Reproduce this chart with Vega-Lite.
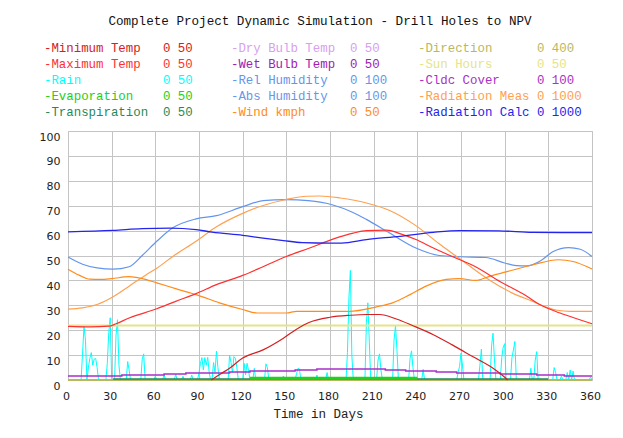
{
 "$schema": "https://vega.github.io/schema/vega-lite/v6.json",
 "width": 524, "height": 249,
 "autosize": {"type": "none"},
 "padding": {"left": 68, "top": 131, "right": 31, "bottom": 58},
 "background": "white",
 "title": {"text": "Complete Project Dynamic Simulation - Drill Holes to NPV", "font": "Liberation Mono", "fontSize": 12.6, "fontWeight": "normal", "color": "#111111", "anchor": "middle", "frame": "group", "dx": -10, "offset": 14},
 "config": {
  "view": {"stroke": "#c4c4c4"},
  "axis": {"grid": true, "gridColor": "#c4c4c4", "gridWidth": 1, "domain": false, "ticks": false, "labelFont": "DejaVu Sans", "labelFontSize": 11, "labelColor": "#222222", "labelOverlap": false, "labelFlush": false}
 },
 "datasets": {
  "lines": [
   {"s":"Radiation Calc","d":0,"v":59.5},{"s":"Radiation Calc","d":31,"v":60.1},{"s":"Radiation Calc","d":51,"v":60.8},{"s":"Radiation Calc","d":70,"v":61},{"s":"Radiation Calc","d":88,"v":60.4},{"s":"Radiation Calc","d":99,"v":59.4},{"s":"Radiation Calc","d":120,"v":58.1},{"s":"Radiation Calc","d":134,"v":57},{"s":"Radiation Calc","d":148,"v":56},{"s":"Radiation Calc","d":161,"v":55.2},{"s":"Radiation Calc","d":180,"v":55},{"s":"Radiation Calc","d":188,"v":55},{"s":"Radiation Calc","d":205,"v":56.4},{"s":"Radiation Calc","d":228,"v":57.7},{"s":"Radiation Calc","d":251,"v":59.3},{"s":"Radiation Calc","d":269,"v":60},{"s":"Radiation Calc","d":296,"v":59.9},{"s":"Radiation Calc","d":319,"v":59.3},{"s":"Radiation Calc","d":340,"v":59.2},{"s":"Radiation Calc","d":360,"v":59.2},
   {"s":"Rel Humidity","d":0,"v":49.4},{"s":"Rel Humidity","d":10,"v":46.5},{"s":"Rel Humidity","d":20,"v":45},{"s":"Rel Humidity","d":31,"v":44.5},{"s":"Rel Humidity","d":42,"v":45.5},{"s":"Rel Humidity","d":51,"v":50},{"s":"Rel Humidity","d":61,"v":55.7},{"s":"Rel Humidity","d":72,"v":61.1},{"s":"Rel Humidity","d":88,"v":64.7},{"s":"Rel Humidity","d":102,"v":66},{"s":"Rel Humidity","d":120,"v":69.6},{"s":"Rel Humidity","d":134,"v":72},{"s":"Rel Humidity","d":150,"v":72.4},{"s":"Rel Humidity","d":165,"v":72},{"s":"Rel Humidity","d":182,"v":70.3},{"s":"Rel Humidity","d":195,"v":67.5},{"s":"Rel Humidity","d":205,"v":64.5},{"s":"Rel Humidity","d":221,"v":59},{"s":"Rel Humidity","d":239,"v":53},{"s":"Rel Humidity","d":255,"v":50},{"s":"Rel Humidity","d":270,"v":49.5},{"s":"Rel Humidity","d":287,"v":49.2},{"s":"Rel Humidity","d":300,"v":47},{"s":"Rel Humidity","d":308,"v":45.9},{"s":"Rel Humidity","d":315,"v":45.8},{"s":"Rel Humidity","d":325,"v":48},{"s":"Rel Humidity","d":333,"v":51.5},{"s":"Rel Humidity","d":344,"v":53.2},{"s":"Rel Humidity","d":352,"v":52.5},{"s":"Rel Humidity","d":360,"v":49.6},
   {"s":"Radiation Meas","d":0,"v":28.5},{"s":"Radiation Meas","d":10,"v":29},{"s":"Radiation Meas","d":20,"v":30.3},{"s":"Radiation Meas","d":31,"v":33.4},{"s":"Radiation Meas","d":42,"v":37.7},{"s":"Radiation Meas","d":54,"v":42.4},{"s":"Radiation Meas","d":61,"v":44.9},{"s":"Radiation Meas","d":72,"v":49.6},{"s":"Radiation Meas","d":88,"v":55.7},{"s":"Radiation Meas","d":102,"v":61.5},{"s":"Radiation Meas","d":120,"v":66.9},{"s":"Radiation Meas","d":134,"v":70.1},{"s":"Radiation Meas","d":150,"v":72.5},{"s":"Radiation Meas","d":164,"v":73.8},{"s":"Radiation Meas","d":173,"v":73.9},{"s":"Radiation Meas","d":187,"v":73.1},{"s":"Radiation Meas","d":205,"v":71.1},{"s":"Radiation Meas","d":221,"v":68.1},{"s":"Radiation Meas","d":239,"v":62},{"s":"Radiation Meas","d":255,"v":54.7},{"s":"Radiation Meas","d":267,"v":49.6},{"s":"Radiation Meas","d":278,"v":44.9},{"s":"Radiation Meas","d":290,"v":40},{"s":"Radiation Meas","d":305,"v":35},{"s":"Radiation Meas","d":319,"v":31.6},{"s":"Radiation Meas","d":328,"v":29.4},{"s":"Radiation Meas","d":336,"v":28},{"s":"Radiation Meas","d":345,"v":27.6},{"s":"Radiation Meas","d":360,"v":27.6},
   {"s":"Wind kmph","d":0,"v":44.5},{"s":"Wind kmph","d":8,"v":42},{"s":"Wind kmph","d":15,"v":40.5},{"s":"Wind kmph","d":22,"v":40.4},{"s":"Wind kmph","d":30,"v":40.7},{"s":"Wind kmph","d":42,"v":41.5},{"s":"Wind kmph","d":51,"v":40.7},{"s":"Wind kmph","d":61,"v":39},{"s":"Wind kmph","d":75,"v":36.5},{"s":"Wind kmph","d":88,"v":34.3},{"s":"Wind kmph","d":104,"v":31},{"s":"Wind kmph","d":120,"v":28.3},{"s":"Wind kmph","d":130,"v":26.9},{"s":"Wind kmph","d":150,"v":26.9},{"s":"Wind kmph","d":157,"v":27.6},{"s":"Wind kmph","d":193,"v":27.6},{"s":"Wind kmph","d":212,"v":29.4},{"s":"Wind kmph","d":223,"v":31},{"s":"Wind kmph","d":235,"v":34.3},{"s":"Wind kmph","d":246,"v":37.7},{"s":"Wind kmph","d":260,"v":40.4},{"s":"Wind kmph","d":269,"v":40.7},{"s":"Wind kmph","d":280,"v":40},{"s":"Wind kmph","d":290,"v":41.7},{"s":"Wind kmph","d":301,"v":43.4},{"s":"Wind kmph","d":319,"v":46.2},{"s":"Wind kmph","d":337,"v":48.3},{"s":"Wind kmph","d":347,"v":47.6},{"s":"Wind kmph","d":360,"v":44.6},
   {"s":"Maximum Temp","d":0,"v":21.5},{"s":"Maximum Temp","d":15,"v":21.3},{"s":"Maximum Temp","d":28,"v":21.6},{"s":"Maximum Temp","d":33,"v":22.6},{"s":"Maximum Temp","d":42,"v":24.9},{"s":"Maximum Temp","d":61,"v":28.6},{"s":"Maximum Temp","d":74,"v":31.6},{"s":"Maximum Temp","d":88,"v":34.7},{"s":"Maximum Temp","d":102,"v":38.3},{"s":"Maximum Temp","d":120,"v":42},{"s":"Maximum Temp","d":134,"v":45.5},{"s":"Maximum Temp","d":150,"v":49.6},{"s":"Maximum Temp","d":166,"v":53},{"s":"Maximum Temp","d":182,"v":56.6},{"s":"Maximum Temp","d":196,"v":59},{"s":"Maximum Temp","d":205,"v":60},{"s":"Maximum Temp","d":219,"v":60.2},{"s":"Maximum Temp","d":228,"v":58.8},{"s":"Maximum Temp","d":239,"v":56.4},{"s":"Maximum Temp","d":251,"v":53},{"s":"Maximum Temp","d":264,"v":49.6},{"s":"Maximum Temp","d":280,"v":45.5},{"s":"Maximum Temp","d":297,"v":39.5},{"s":"Maximum Temp","d":315,"v":33.7},{"s":"Maximum Temp","d":324,"v":30.3},{"s":"Maximum Temp","d":338,"v":26.9},{"s":"Maximum Temp","d":350,"v":24.5},{"s":"Maximum Temp","d":360,"v":22.6},
   {"s":"Minimum Temp","d":98.5,"v":0},{"s":"Minimum Temp","d":105,"v":2.5},{"s":"Minimum Temp","d":111,"v":4.7},{"s":"Minimum Temp","d":120,"v":8.8},{"s":"Minimum Temp","d":134,"v":12.1},{"s":"Minimum Temp","d":148,"v":16.8},{"s":"Minimum Temp","d":157,"v":20.4},{"s":"Minimum Temp","d":166,"v":23.2},{"s":"Minimum Temp","d":180,"v":25.2},{"s":"Minimum Temp","d":194,"v":26},{"s":"Minimum Temp","d":205,"v":26.3},{"s":"Minimum Temp","d":214,"v":26.3},{"s":"Minimum Temp","d":225.6,"v":24.5},{"s":"Minimum Temp","d":237,"v":21.8},{"s":"Minimum Temp","d":251,"v":18.2},{"s":"Minimum Temp","d":264,"v":14.1},{"s":"Minimum Temp","d":278,"v":9.4},{"s":"Minimum Temp","d":292,"v":4.7},{"s":"Minimum Temp","d":299,"v":1.6},{"s":"Minimum Temp","d":302,"v":0},
   {"s":"Cldc Cover","d":0,"v":1.6},{"s":"Cldc Cover","d":37,"v":2},{"s":"Cldc Cover","d":66,"v":2.4},{"s":"Cldc Cover","d":81,"v":2.8},{"s":"Cldc Cover","d":111,"v":3.2},{"s":"Cldc Cover","d":125,"v":3.6},{"s":"Cldc Cover","d":156,"v":4},{"s":"Cldc Cover","d":171,"v":4.4},{"s":"Cldc Cover","d":218,"v":4},{"s":"Cldc Cover","d":232,"v":3.6},{"s":"Cldc Cover","d":253,"v":3.2},{"s":"Cldc Cover","d":267,"v":2.8},{"s":"Cldc Cover","d":297,"v":2.4},{"s":"Cldc Cover","d":322,"v":2},{"s":"Cldc Cover","d":341,"v":1.6},{"s":"Cldc Cover","d":360,"v":1.6},
   {"s":"Sun Hours","d":0,"v":21.9},{"s":"Sun Hours","d":360,"v":21.9},
   {"s":"Direction","d":0,"v":0},{"s":"Direction","d":360,"v":0},
   {"s":"Evaporation","d":125,"v":0.7},{"s":"Evaporation","d":240,"v":0.7},
   {"s":"Transpiration","d":31,"v":0.4},{"s":"Transpiration","d":330,"v":0.4}
  ],
  "rain": [
   {"d":0,"v":0},{"d":9,"v":0},{"d":10,"v":10.8},{"d":11,"v":21.5},{"d":12,"v":16},{"d":13,"v":0},{"d":14,"v":5},{"d":15,"v":8.7},{"d":16,"v":11},{"d":17,"v":6},{"d":18,"v":8.4},{"d":19,"v":8.7},{"d":20,"v":5},{"d":21,"v":0},
   {"d":26,"v":0},{"d":27,"v":6.7},{"d":28,"v":19},{"d":29,"v":25},{"d":30,"v":0},{"d":32,"v":0},{"d":33,"v":18},{"d":34,"v":24.2},{"d":35,"v":6},{"d":36,"v":0},
   {"d":40,"v":0},{"d":41,"v":7.4},{"d":42,"v":4},{"d":43,"v":0},
   {"d":50,"v":0},{"d":51,"v":8.4},{"d":52,"v":10.5},{"d":53,"v":0},
   {"d":59,"v":0},{"d":60,"v":1.6},{"d":61,"v":0},{"d":65,"v":0},{"d":66,"v":2},{"d":67,"v":0},{"d":73,"v":0},{"d":74,"v":2.3},{"d":75,"v":0},{"d":78,"v":0},{"d":79,"v":1.5},{"d":80,"v":0},{"d":84,"v":0},{"d":85,"v":2},{"d":86,"v":0},
   {"d":89,"v":0},{"d":90,"v":3},{"d":91,"v":6.7},{"d":92,"v":9},{"d":93,"v":4},{"d":94,"v":9},{"d":95,"v":6},{"d":96,"v":9.1},{"d":97,"v":3},{"d":98,"v":0},{"d":99,"v":0},{"d":100,"v":7},{"d":101,"v":3},{"d":102,"v":11.6},{"d":103,"v":5},{"d":104,"v":0},
   {"d":110,"v":0},{"d":111,"v":10},{"d":112,"v":7},{"d":113,"v":3},{"d":114,"v":9.4},{"d":115,"v":8.7},{"d":116,"v":5},{"d":117,"v":0},
   {"d":120,"v":0},{"d":121,"v":6.7},{"d":122,"v":2},{"d":123,"v":6.7},{"d":124,"v":4},{"d":125,"v":0},
   {"d":127,"v":0},{"d":128,"v":4.7},{"d":129,"v":0},{"d":135,"v":0},{"d":136,"v":6.5},{"d":137,"v":5},{"d":138,"v":0},{"d":147,"v":0},{"d":148,"v":1.6},{"d":149,"v":0},
   {"d":156,"v":0},{"d":157,"v":2.5},{"d":158,"v":4.7},{"d":159,"v":4.3},{"d":160,"v":0},{"d":170,"v":0},{"d":171,"v":2},{"d":172,"v":0},{"d":177,"v":0},{"d":178,"v":3},{"d":179,"v":0},
   {"d":191,"v":0},{"d":192,"v":11},{"d":193,"v":33},{"d":194,"v":44},{"d":195,"v":10},{"d":196,"v":0},
   {"d":204,"v":0},{"d":205,"v":23},{"d":206,"v":31},{"d":207,"v":15.5},{"d":208,"v":0},
   {"d":212,"v":0},{"d":213,"v":8},{"d":214,"v":10.5},{"d":215,"v":4},{"d":216,"v":0},
   {"d":223,"v":0},{"d":224,"v":16},{"d":225,"v":21.8},{"d":226,"v":12},{"d":227,"v":0},
   {"d":234,"v":0},{"d":235,"v":8.7},{"d":236,"v":11.7},{"d":237,"v":5},{"d":238,"v":0},
   {"d":243,"v":0},{"d":244,"v":4.3},{"d":245,"v":0},
   {"d":267,"v":0},{"d":268,"v":3},{"d":269,"v":5.4},{"d":270,"v":10.8},{"d":271,"v":6},{"d":272,"v":0},
   {"d":282,"v":0},{"d":283,"v":6},{"d":284,"v":12.4},{"d":285,"v":0},
   {"d":290,"v":0},{"d":291,"v":13.7},{"d":292,"v":18.8},{"d":293,"v":8},{"d":294,"v":0},
   {"d":297,"v":0},{"d":298,"v":9},{"d":299,"v":13.2},{"d":300,"v":14.6},{"d":301,"v":0},
   {"d":304,"v":0},{"d":305,"v":9},{"d":306,"v":12},{"d":307,"v":15.5},{"d":308,"v":0},
   {"d":317,"v":0},{"d":318,"v":4.7},{"d":319,"v":0},{"d":320,"v":0},{"d":321,"v":8},{"d":322,"v":11.4},{"d":323,"v":0},
   {"d":333,"v":0},{"d":334,"v":5},{"d":335,"v":3},{"d":336,"v":0},{"d":338,"v":0},{"d":339,"v":1.6},{"d":340,"v":0},
   {"d":342,"v":0},{"d":343,"v":3},{"d":344,"v":0},{"d":345,"v":4},{"d":346,"v":0},{"d":347,"v":3.6},{"d":348,"v":0},
   {"d":358,"v":0},{"d":359,"v":1.2},{"d":360,"v":0}
  ],
  "legend": [
   {"s":"Minimum Temp","col":0,"row":1,"label":"-Minimum Temp\u00a0\u00a0\u00a00\u00a050"},
   {"s":"Maximum Temp","col":0,"row":2,"label":"-Maximum Temp\u00a0\u00a0\u00a00\u00a050"},
   {"s":"Rain","col":0,"row":3,"label":"-Rain\u00a0\u00a0\u00a0\u00a0\u00a0\u00a0\u00a0\u00a0\u00a0\u00a0\u00a00\u00a050"},
   {"s":"Evaporation","col":0,"row":4,"label":"-Evaporation\u00a0\u00a0\u00a0\u00a00\u00a050"},
   {"s":"Transpiration","col":0,"row":5,"label":"-Transpiration\u00a0\u00a00\u00a050"},
   {"s":"Dry Bulb Temp","col":1,"row":1,"label":"-Dry\u00a0Bulb\u00a0Temp\u00a0\u00a00\u00a050"},
   {"s":"Wet Bulb Temp","col":1,"row":2,"label":"-Wet\u00a0Bulb\u00a0Temp\u00a0\u00a00\u00a050"},
   {"s":"Rel Humidity","col":1,"row":3,"label":"-Rel\u00a0Humidity\u00a0\u00a0\u00a00\u00a0100"},
   {"s":"Abs Humidity","col":1,"row":4,"label":"-Abs\u00a0Humidity\u00a0\u00a0\u00a00\u00a0100"},
   {"s":"Wind kmph","col":1,"row":5,"label":"-Wind\u00a0kmph\u00a0\u00a0\u00a0\u00a0\u00a0\u00a00\u00a050"},
   {"s":"Direction","col":2,"row":1,"label":"-Direction\u00a0\u00a0\u00a0\u00a0\u00a0\u00a00\u00a0400"},
   {"s":"Sun Hours","col":2,"row":2,"label":"-Sun\u00a0Hours\u00a0\u00a0\u00a0\u00a0\u00a0\u00a00\u00a050"},
   {"s":"Cldc Cover","col":2,"row":3,"label":"-Cldc\u00a0Cover\u00a0\u00a0\u00a0\u00a0\u00a00\u00a0100"},
   {"s":"Radiation Meas","col":2,"row":4,"label":"-Radiation\u00a0Meas\u00a00\u00a01000"},
   {"s":"Radiation Calc","col":2,"row":5,"label":"-Radiation\u00a0Calc\u00a00\u00a01000"}
  ]
 },
 "layer": [
  {
   "data": {"name": "lines"},
   "encoding": {
    "x": {"field": "d", "type": "quantitative", "scale": {"domain": [0, 360], "nice": false, "zero": false},
          "axis": {"orient": "bottom", "values": [0,30,60,90,120,150,180,210,240,270,300,330,360], "labelPadding": 10, "labelOffset": -2,
                   "title": "Time in Days", "titleFont": "Liberation Mono", "titleFontSize": 12.5, "titleFontWeight": "normal", "titleColor": "#222222", "titleX": 250, "titleY": 33, "titleBaseline": "middle"}},
    "y": {"field": "v", "type": "quantitative", "scale": {"domain": [0, 100], "nice": false, "zero": false},
          "axis": {"orient": "left", "values": [0,10,20,30,40,50,60,70,80,90,100], "labelPadding": 8, "labelOffset": 6, "title": null}}
   },
   "layer": [
    {"data": {"name": "rain"}, "mark": {"type": "line", "strokeWidth": 1, "interpolate": "linear"},
     "encoding": {"color": {"datum": "Rain", "type": "nominal", "legend": null,
       "scale": {"domain": ["Minimum Temp","Maximum Temp","Rain","Evaporation","Transpiration","Dry Bulb Temp","Wet Bulb Temp","Rel Humidity","Abs Humidity","Wind kmph","Direction","Sun Hours","Cldc Cover","Radiation Meas","Radiation Calc"],
                 "range": ["#d42020","#ff3030","#00ffff","#22d022","#1f8a5a","#d8a0ee","#a020b0","#6495ed","#6a96e8","#ff8c1a","#b8b860","#e4e488","#a830c8","#ffa050","#2424ee"]}}}},
    {"transform": [{"filter": {"field": "s", "oneOf": ["Direction", "Sun Hours"]}}],
     "mark": {"type": "line", "strokeWidth": 2, "interpolate": "step-after"},
     "encoding": {"color": {"field": "s", "type": "nominal", "legend": null}}},
    {"transform": [{"filter": {"field": "s", "equal": "Transpiration"}}],
     "mark": {"type": "line", "strokeWidth": 1.5, "interpolate": "step-after"},
     "encoding": {"color": {"field": "s", "type": "nominal", "legend": null}}},
    {"transform": [{"filter": {"field": "s", "equal": "Evaporation"}}],
     "mark": {"type": "line", "strokeWidth": 3, "interpolate": "step-after"},
     "encoding": {"color": {"field": "s", "type": "nominal", "legend": null}}},
    {"transform": [{"filter": {"field": "s", "equal": "Cldc Cover"}}],
     "mark": {"type": "line", "strokeWidth": 1.5, "interpolate": "step-after"},
     "encoding": {"color": {"field": "s", "type": "nominal", "legend": null}}},
    {"transform": [{"filter": {"field": "s", "oneOf": ["Minimum Temp", "Maximum Temp", "Wind kmph", "Radiation Meas", "Rel Humidity"]}}],
     "mark": {"type": "line", "strokeWidth": 1.2, "interpolate": "monotone"},
     "encoding": {"color": {"field": "s", "type": "nominal", "legend": null}}},
    {"transform": [{"filter": {"field": "s", "equal": "Radiation Calc"}}],
     "mark": {"type": "line", "strokeWidth": 1.3, "interpolate": "monotone"},
     "encoding": {"color": {"field": "s", "type": "nominal", "legend": null}}}
   ]
  },
  {
   "data": {"name": "legend"},
   "mark": {"type": "text", "align": "left", "baseline": "middle", "font": "Liberation Mono", "fontSize": 12.4},
   "encoding": {
    "x": {"field": "col", "type": "quantitative", "scale": {"domain": [0, 2], "range": [-24, 350], "nice": false, "zero": false}, "axis": null},
    "y": {"field": "row", "type": "quantitative", "scale": {"domain": [1, 5], "range": [-83.3, -18.7], "nice": false, "zero": false}, "axis": null},
    "text": {"field": "label"},
    "color": {"field": "s", "type": "nominal", "legend": null,
       "scale": {"domain": ["Minimum Temp","Maximum Temp","Rain","Evaporation","Transpiration","Dry Bulb Temp","Wet Bulb Temp","Rel Humidity","Abs Humidity","Wind kmph","Direction","Sun Hours","Cldc Cover","Radiation Meas","Radiation Calc"],
                 "range": ["#d42020","#ff3030","#00ffff","#22d022","#1f8a5a","#d8a0ee","#a020b0","#6495ed","#6a96e8","#ff8c1a","#b8b860","#e4e488","#a830c8","#ffa050","#2424ee"]}}
   }
  }
 ],
 "resolve": {"scale": {"x": "independent", "y": "independent"}}
}
